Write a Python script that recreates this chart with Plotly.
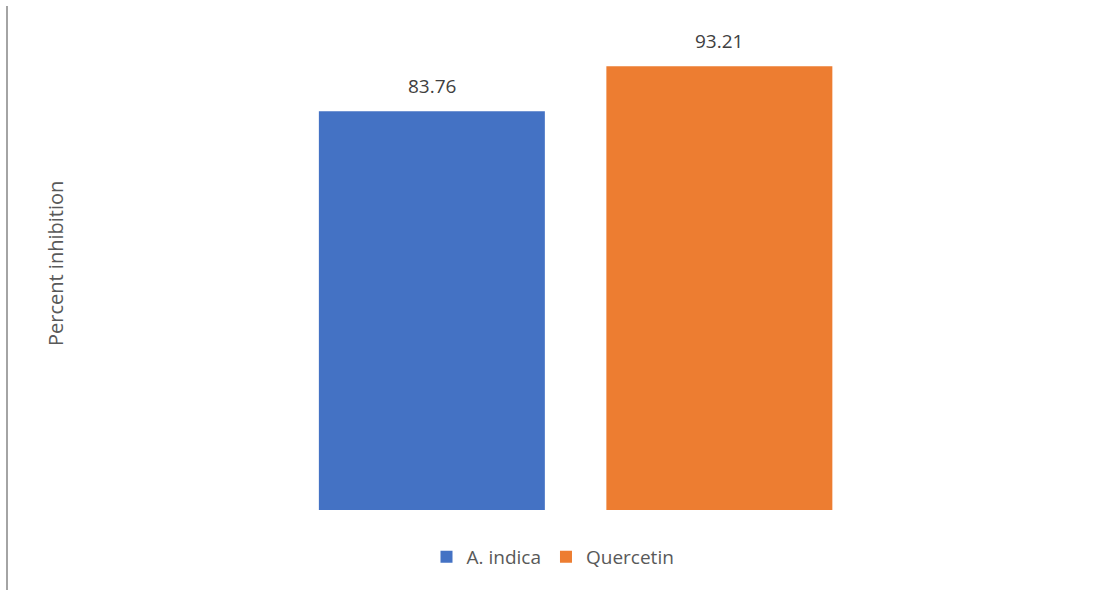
import plotly.graph_objects as go

series = ["A. indica", "Quercetin"]
values = [83.76, 93.21]
colors = ["#4472C4", "#ED7D31"]
positions = [0, 1]

W, H = 1095, 590
ml, mr, mt, mb = 100, 43, 34, 80
pw = W - ml - mr
ph = H - mt - mb

def px_x(p):
    return (p - ml) / pw

def px_y(p):
    return (H - mb - p) / ph

fig = go.Figure()
for name, v, c, x in zip(series, values, colors, positions):
    fig.add_trace(go.Bar(
        x=[x], y=[v], name=name, marker=dict(color=c, line=dict(width=0)),
        width=0.786, hoverinfo="skip",
    ))
    fig.add_annotation(x=x, y=v, xref="x", yref="y", text=f"{v:.2f}",
                       showarrow=False, yanchor="bottom", yshift=10,
                       font=dict(family="Open Sans", size=19, color="#404040"))

fig.add_annotation(x=px_x(55), y=px_y(264), xref="paper", yref="paper",
                   text="Percent inhibition", textangle=-90, showarrow=False,
                   xanchor="center", yanchor="middle",
                   font=dict(family="Open Sans", size=20, color="#595959"))

fig.add_shape(type="line", xref="paper", yref="paper",
              x0=px_x(7), x1=px_x(7), y0=px_y(6), y1=px_y(592),
              line=dict(color="#868686", width=1.5))

fig.update_layout(
    width=W, height=H,
    margin=dict(l=ml, r=mr, t=mt, b=mb),
    paper_bgcolor="white", plot_bgcolor="white",
    xaxis=dict(range=[-1.1543, 2.157], visible=False),
    yaxis=dict(range=[0, 100], visible=False),
    showlegend=True,
    legend=dict(orientation="h", x=px_x(553), xanchor="center",
                y=px_y(557), yanchor="middle",
                font=dict(family="Open Sans", size=19, color="#595959"),
                itemwidth=30, traceorder="normal"),
)

fig.write_html("out.html")
